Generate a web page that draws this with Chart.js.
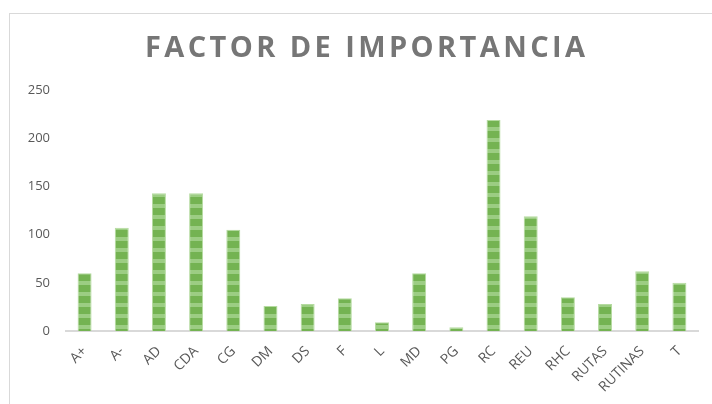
<!DOCTYPE html>
<html>
<head>
<meta charset="utf-8">
<script src="https://cdn.jsdelivr.net/npm/chart.js@4"></script>
<style>
  html, body { margin: 0; padding: 0; background: #fff; }
  body { width: 712px; height: 404px; overflow: hidden; position: relative; }
  #frame { position: absolute; left: 9px; top: 13px; width: 760px; height: 440px; border: 1px solid #d9d9d9; }
  #wrap { position: absolute; left: 0; top: 0; width: 712px; height: 404px; }
</style>
</head>
<body>
<div id="frame"></div>
<div id="wrap"><canvas id="chart" width="712" height="404"></canvas></div>
<script>
const categories = ['A+', 'A-', 'AD', 'CDA', 'CG', 'DM', 'DS', 'F', 'L', 'MD', 'PG', 'RC', 'REU', 'RHC', 'RUTAS', 'RUTINAS', 'T'];
const values = [60, 107, 143, 143, 105, 26, 28, 34, 9, 60, 4, 219, 119, 35, 28, 62, 50];
const yTicks = [0, 50, 100, 150, 200, 250];
const titleText = 'FACTOR DE IMPORTANCIA';

document.addEventListener('DOMContentLoaded', () => {

  // motif a bandes (vert fonce / vert clair)
  const pc = document.createElement('canvas');
  pc.width = 4;
  pc.height = 11;
  const pctx = pc.getContext('2d');
  pctx.fillStyle = '#74b352';
  pctx.fillRect(0, 0, 4, 11);
  pctx.fillStyle = '#9ccd83';
  pctx.fillRect(0, 6, 4, 4);

  const ctx = document.getElementById('chart').getContext('2d');
  const stripes = ctx.createPattern(pc, 'repeat');

  // titre espace (letterSpacing) dessine a la main
  const spacedTitle = {
    id: 'spacedTitle',
    afterDraw(chart) {
      const c = chart.ctx;
      c.save();
      c.font = 'bold 29px "Open Sans"';
      c.fillStyle = '#767676';
      c.textAlign = 'center';
      c.textBaseline = 'middle';
      c.letterSpacing = '3.4px';
      c.fillText(titleText, 365 + 1.7, 49);
      c.restore();
    }
  };

  new Chart(ctx, {
    type: 'bar',
    data: {
      labels: categories,
      datasets: [{
        data: values,
        backgroundColor: stripes,
        borderColor: '#b5dba0',
        borderWidth: 1,
        borderSkipped: 'bottom',
        categoryPercentage: 1,
        barPercentage: 0.376
      }]
    },
    plugins: [spacedTitle],
    options: {
      responsive: false,
      animation: false,
      layout: { padding: { left: 0, right: 14, top: 90, bottom: 0 } },
      plugins: {
        legend: { display: false },
        tooltip: { enabled: false },
        title: { display: false }
      },
      scales: {
        x: {
          grid: { display: false, drawTicks: false },
          border: { display: true, color: '#d9d9d9', width: 2 },
          ticks: {
            color: '#595959',
            font: { family: 'Open Sans', size: 14 },
            minRotation: 45,
            maxRotation: 45,
            padding: 12,
            autoSkip: false
          },
          afterFit: (scale) => { scale.height = 73; }
        },
        y: {
          min: 0,
          max: 250,
          afterBuildTicks: (scale) => { scale.ticks = yTicks.map(v => ({ value: v })); },
          grid: { display: false, drawTicks: false },
          border: { display: false },
          ticks: {
            color: '#595959',
            font: { family: 'Open Sans', size: 13 },
            padding: 16
          },
          afterFit: (scale) => { scale.width = 66; }
        }
      }
    }
  });
});
</script>
</body>
</html>
